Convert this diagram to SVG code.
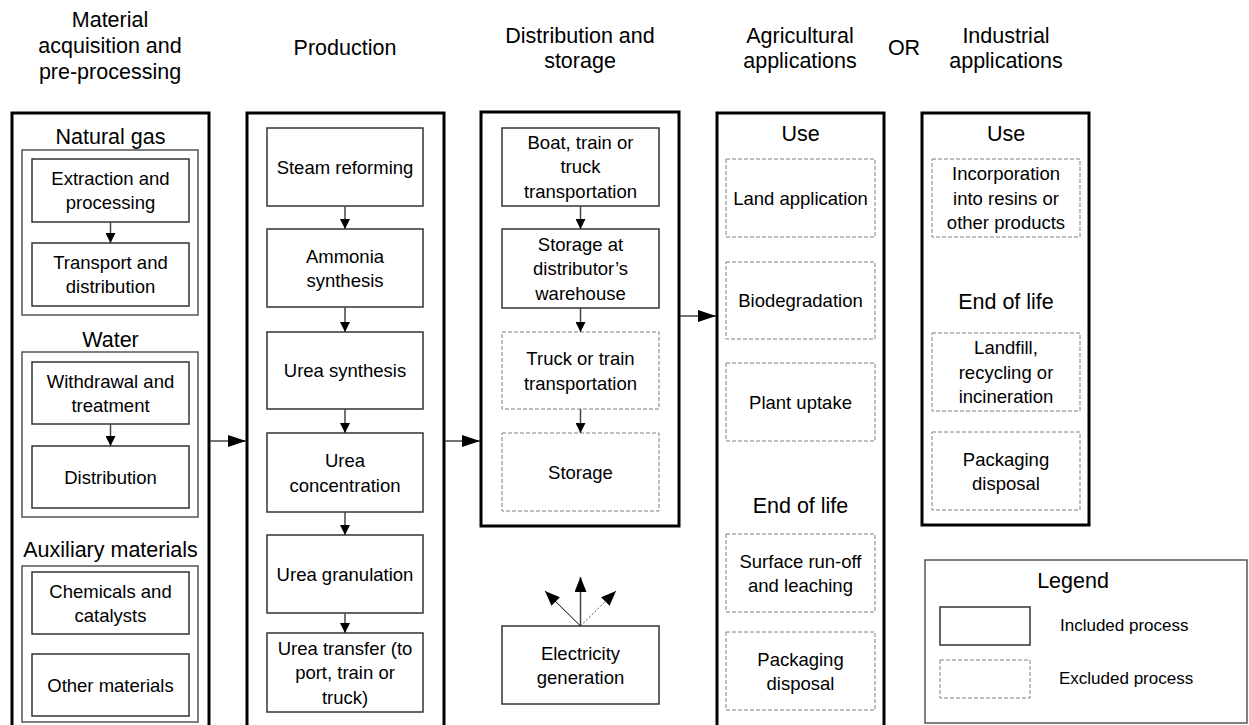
<svg xmlns="http://www.w3.org/2000/svg" width="1249" height="725" viewBox="0 0 1249 725">
<defs>
<style>
text{font-family:"Liberation Sans",Arial,sans-serif;fill:#000;text-anchor:middle}
.h{font-size:21.5px}
.t{font-size:18.5px}
.l{font-size:17px;text-anchor:start}
.outer{fill:#fff;stroke:#000;stroke-width:3}
.grp{fill:#fff;stroke:#555;stroke-width:1.5}
.inc{fill:#fff;stroke:#333;stroke-width:1.5}
.exc{fill:#fff;stroke:#808080;stroke-width:1;stroke-dasharray:4,2}
.leg{fill:#fff;stroke:#555;stroke-width:1.5}
.c{stroke:#444;stroke-width:1.5;fill:none}
</style>
<marker id="s" markerUnits="userSpaceOnUse" markerWidth="10" markerHeight="10" refX="10" refY="5" orient="auto"><path d="M0,0 L10,5 L0,10 z" fill="#000"/></marker>
<marker id="b" markerUnits="userSpaceOnUse" markerWidth="18" markerHeight="12" refX="18" refY="6" orient="auto"><path d="M0,0 L18,6 L0,12 z" fill="#000"/></marker>
<marker id="e" markerUnits="userSpaceOnUse" markerWidth="15" markerHeight="12" refX="15" refY="6" orient="auto"><path d="M0,0 L15,6 L0,12 z" fill="#000"/></marker>
</defs>

<g id="headers">
<text class="h" x="110" y="27">Material</text>
<text class="h" x="110" y="53">acquisition and</text>
<text class="h" x="110" y="79">pre-processing</text>
<text class="h" x="345" y="55">Production</text>
<text class="h" x="580" y="43">Distribution and</text>
<text class="h" x="580" y="68">storage</text>
<text class="h" x="800" y="43">Agricultural</text>
<text class="h" x="800" y="68">applications</text>
<text class="h" x="904" y="55">OR</text>
<text class="h" x="1006" y="43">Industrial</text>
<text class="h" x="1006" y="68">applications</text>
</g>

<g id="col-material">
<rect class="outer" x="12" y="113" width="197" height="625"/>
<g id="grp-natural-gas">
<text class="h" x="110.5" y="144">Natural gas</text>
<rect class="grp" x="22" y="150" width="176" height="165"/>
</g>
<g id="n-extraction"><rect class="inc" x="32" y="159" width="157" height="63"/><text class="t" x="110.5" y="184.5">Extraction and</text><text class="t" x="110.5" y="209">processing</text></g>
<g id="n-transport"><rect class="inc" x="32" y="243" width="157" height="63"/><text class="t" x="110.5" y="268.5">Transport and</text><text class="t" x="110.5" y="293">distribution</text></g>
<g id="grp-water">
<text class="h" x="110.5" y="347">Water</text>
<rect class="grp" x="22" y="352" width="176" height="165"/>
</g>
<g id="n-withdrawal"><rect class="inc" x="32" y="362" width="157" height="62"/><text class="t" x="110.5" y="387.5">Withdrawal and</text><text class="t" x="110.5" y="412">treatment</text></g>
<g id="n-distribution"><rect class="inc" x="32" y="446" width="157" height="62"/><text class="t" x="110.5" y="483.5">Distribution</text></g>
<g id="grp-aux">
<text class="h" x="110.5" y="557">Auxiliary materials</text>
<rect class="grp" x="22" y="566" width="176" height="156"/>
</g>
<g id="n-chemicals"><rect class="inc" x="32" y="572" width="157" height="62"/><text class="t" x="110.5" y="597.5">Chemicals and</text><text class="t" x="110.5" y="622">catalysts</text></g>
<g id="n-other"><rect class="inc" x="32" y="654" width="157" height="62"/><text class="t" x="110.5" y="691.5">Other materials</text></g>
</g>

<g id="col-production">
<rect class="outer" x="247" y="113" width="197" height="625"/>
<g id="n-steam"><rect class="inc" x="267" y="128" width="156" height="78"/><text class="t" x="345" y="173.5">Steam reforming</text></g>
<g id="n-ammonia"><rect class="inc" x="267" y="229" width="156" height="78"/><text class="t" x="345" y="262.5">Ammonia</text><text class="t" x="345" y="287">synthesis</text></g>
<g id="n-urea-syn"><rect class="inc" x="267" y="332" width="156" height="77"/><text class="t" x="345" y="377">Urea synthesis</text></g>
<g id="n-urea-conc"><rect class="inc" x="267" y="433" width="156" height="79"/><text class="t" x="345" y="467">Urea</text><text class="t" x="345" y="491.5">concentration</text></g>
<g id="n-urea-gran"><rect class="inc" x="267" y="535" width="156" height="78"/><text class="t" x="345" y="580.5">Urea granulation</text></g>
<g id="n-urea-transfer"><rect class="inc" x="267" y="633" width="156" height="79"/><text class="t" x="345" y="654.5">Urea transfer (to</text><text class="t" x="345" y="679">port, train or</text><text class="t" x="345" y="703.5">truck)</text></g>
</g>

<g id="col-distribution">
<rect class="outer" x="481" y="112" width="198" height="414"/>
<g id="n-boat"><rect class="inc" x="502" y="128" width="157" height="78"/><text class="t" x="580.5" y="148.5">Boat, train or</text><text class="t" x="580.5" y="173">truck</text><text class="t" x="580.5" y="197.5">transportation</text></g>
<g id="n-storage-dist"><rect class="inc" x="502" y="229" width="157" height="79"/><text class="t" x="580.5" y="250.5">Storage at</text><text class="t" x="580.5" y="275">distributor’s</text><text class="t" x="580.5" y="299.5">warehouse</text></g>
<g id="n-truck"><rect class="exc" x="502" y="332" width="157" height="77"/><text class="t" x="580.5" y="365">Truck or train</text><text class="t" x="580.5" y="389.5">transportation</text></g>
<g id="n-storage"><rect class="exc" x="502" y="433" width="157" height="78"/><text class="t" x="580.5" y="478.5">Storage</text></g>
</g>

<g id="n-electricity"><rect class="inc" x="502" y="626" width="157" height="78"/><text class="t" x="580.5" y="659.5">Electricity</text><text class="t" x="580.5" y="684">generation</text></g>

<g id="col-agricultural">
<rect class="outer" x="717" y="113" width="167" height="625"/>
<text class="h" x="800.5" y="141">Use</text>
<g id="n-land"><rect class="exc" x="726" y="159" width="149" height="78"/><text class="t" x="800.5" y="204.5">Land application</text></g>
<g id="n-biodeg"><rect class="exc" x="726" y="262" width="149" height="77"/><text class="t" x="800.5" y="307">Biodegradation</text></g>
<g id="n-plant"><rect class="exc" x="726" y="363" width="149" height="78"/><text class="t" x="800.5" y="408.5">Plant uptake</text></g>
<text class="h" x="800.5" y="513">End of life</text>
<g id="n-runoff"><rect class="exc" x="726" y="534" width="149" height="78"/><text class="t" x="800.5" y="567.5">Surface run-off</text><text class="t" x="800.5" y="592">and leaching</text></g>
<g id="n-pack-agri"><rect class="exc" x="726" y="632" width="149" height="78"/><text class="t" x="800.5" y="665.5">Packaging</text><text class="t" x="800.5" y="690">disposal</text></g>
</g>

<g id="col-industrial">
<rect class="outer" x="922" y="113" width="167" height="412"/>
<text class="h" x="1006" y="141">Use</text>
<g id="n-incorp"><rect class="exc" x="932" y="159" width="148" height="78"/><text class="t" x="1006" y="180">Incorporation</text><text class="t" x="1006" y="204.5">into resins or</text><text class="t" x="1006" y="229">other products</text></g>
<text class="h" x="1006" y="309">End of life</text>
<g id="n-landfill"><rect class="exc" x="932" y="333" width="148" height="78"/><text class="t" x="1006" y="354">Landfill,</text><text class="t" x="1006" y="378.5">recycling or</text><text class="t" x="1006" y="403">incineration</text></g>
<g id="n-pack-ind"><rect class="exc" x="932" y="432" width="148" height="78"/><text class="t" x="1006" y="465.5">Packaging</text><text class="t" x="1006" y="490">disposal</text></g>
</g>

<g id="legend">
<rect class="leg" x="925" y="560" width="322" height="163"/>
<text class="h" x="1073" y="588">Legend</text>
<rect class="inc" x="940" y="607" width="90" height="38"/>
<text class="l" x="1060" y="631">Included process</text>
<rect class="exc" x="940" y="660" width="90" height="38"/>
<text class="l" x="1059" y="684">Excluded process</text>
</g>

<g id="connectors">
<line class="c" x1="110.5" y1="222" x2="110.5" y2="243" marker-end="url(#s)"/>
<line class="c" x1="110.5" y1="424" x2="110.5" y2="446" marker-end="url(#s)"/>
<line class="c" x1="210" y1="441" x2="246" y2="441" marker-end="url(#b)"/>
<line class="c" x1="345" y1="206" x2="345" y2="229" marker-end="url(#s)"/>
<line class="c" x1="345" y1="307" x2="345" y2="332" marker-end="url(#s)"/>
<line class="c" x1="345" y1="409" x2="345" y2="433" marker-end="url(#s)"/>
<line class="c" x1="345" y1="512" x2="345" y2="535" marker-end="url(#s)"/>
<line class="c" x1="345" y1="613" x2="345" y2="633" marker-end="url(#s)"/>
<line class="c" x1="445" y1="441" x2="480" y2="441" marker-end="url(#b)"/>
<line class="c" x1="580.5" y1="206" x2="580.5" y2="229" marker-end="url(#s)"/>
<line class="c" x1="580.5" y1="308" x2="580.5" y2="332" marker-end="url(#s)"/>
<line class="c" x1="580.5" y1="409" x2="580.5" y2="433" marker-end="url(#s)"/>
<line class="c" x1="680" y1="316" x2="716" y2="316" marker-end="url(#b)"/>
<line class="c" x1="580.5" y1="626" x2="580.5" y2="577" stroke="#777" marker-end="url(#e)"/>
<line x1="580.5" y1="626" x2="545" y2="591" stroke="#000" stroke-width="1" marker-end="url(#e)"/>
<line x1="580.5" y1="626" x2="616" y2="591" stroke="#555" stroke-width="1" stroke-dasharray="2,2" marker-end="url(#e)"/>
</g>
</svg>
